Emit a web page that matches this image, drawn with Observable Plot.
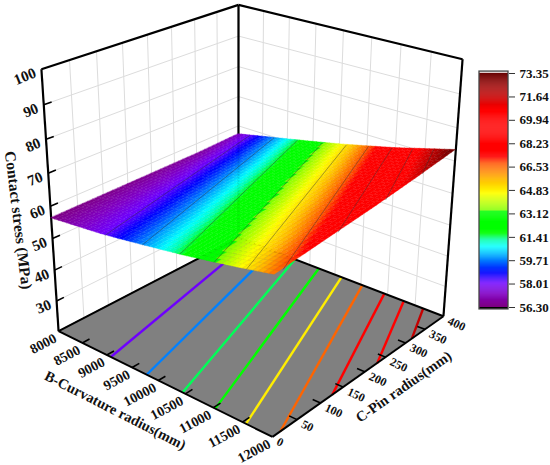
<!DOCTYPE html>
<html><head><meta charset="utf-8">
<style>html,body{margin:0;padding:0;background:#fff}#root{position:relative;width:550px;height:465px;overflow:hidden}#bar{position:absolute;left:470px;top:60px}#main{position:absolute;left:0;top:0}svg{display:block}</style>
<script src="https://cdn.jsdelivr.net/npm/d3@7"></script>
<script src="https://cdn.jsdelivr.net/npm/@observablehq/plot@0.6"></script>
</head><body><div id="root"><div id="main"></div><div id="bar"></div></div>
<script>
// ---- data ----
const bTicks = [8000,8500,9000,9500,10000,10500,11000,11500,12000];
const cTicks = [0,50,100,150,200,250,300,350,400];
const zTicks = [30,40,50,60,70,80,90,100];
const barTicks = [56.30,58.01,59.71,61.41,63.12,64.83,66.53,68.23,69.94,71.64,73.35];
// stress at C = 0, 100, 200, 300, 400 (rows) for each bTicks value (columns)
const cRows = [0,100,200,300,400];
const stress0   = [56.30,57.09,57.88,59.03,60.27,61.56,63.03,64.64,66.40];
const stress100 = [56.40,57.33,58.35,59.66,61.03,62.52,64.15,65.89,68.00];
const stress200 = [56.50,57.64,58.98,60.44,61.98,63.62,65.42,67.36,69.50];
const stress300 = [56.60,58.17,59.72,61.37,63.07,64.89,66.89,68.99,71.30];
const stress400 = [57.12,58.91,60.68,62.48,64.34,66.41,68.52,70.94,73.35];
// contour lines
const levels      = [58.01,59.71,61.41,63.12,64.83,66.53,68.23,69.94,71.64];
const levelStartB = [9080,9780,10448,11032,11560,12000,12000,12000,12000];
const levelStartC = [0,0,0,0,0,16,126,230,316];
const levelEndB   = [8240,8732,9200,9680,10128,10528,10940,11296,11644];
// colour map
const cmapValues = [56.30,56.57,57.29,58.02,58.75,59.72,60.69,61.17,61.66,63.28,63.29,64.57,65.54,66.75,67.24,70.63,73.35];
const cmapColors = ["rgb(125,0,130)","rgb(128,0,150)","rgb(128,0,200)","rgb(110,0,255)","rgb(0,0,255)","rgb(0,130,255)","rgb(0,255,255)","rgb(0,255,170)","rgb(0,255,0)","rgb(0,255,0)","rgb(128,255,0)","rgb(255,255,0)","rgb(255,190,0)","rgb(255,80,0)","rgb(255,0,0)","rgb(255,0,0)","rgb(100,0,0)"];

const zMin = 20, zMax = 100, bMin = 8000, bMax = 12000, cMin = 0, cMax = 400;
const serif = "'Liberation Serif','Times New Roman',serif";

// ---- camera: least-squares projective fit to the seven visible box corners ----
const anchors = [
  [0,0,0,58,330],[1,0,0,272,437],[1,1,0,443,315],[0,1,0,238,238],
  [0,0,1,41,69],[1,1,1,462,59],[0,1,1,238,4]
];
function fitCamera(pts){
  const A=[],b=[];
  for(const [u,v,w,X,Y] of pts){
    A.push([u,v,w,1,0,0,0,0,-X*u,-X*v,-X*w]);b.push(X);
    A.push([0,0,0,0,u,v,w,1,-Y*u,-Y*v,-Y*w]);b.push(Y);
  }
  const n=11,M=Array.from({length:n},(_,i)=>{
    const r=new Array(n+1).fill(0);
    for(let k=0;k<A.length;k++){for(let j=0;j<n;j++)r[j]+=A[k][i]*A[k][j];r[n]+=A[k][i]*b[k];}
    return r;
  });
  for(let i=0;i<n;i++){
    let p=i;for(let r=i+1;r<n;r++)if(Math.abs(M[r][i])>Math.abs(M[p][i]))p=r;
    [M[i],M[p]]=[M[p],M[i]];
    for(let r=0;r<n;r++){if(r===i)continue;const f=M[r][i]/M[i][i];for(let j=i;j<=n;j++)M[r][j]-=f*M[i][j];}
  }
  return M.map((r,i)=>r[n]/r[i]);
}
const P = fitCamera(anchors);
function project(B,C,z){
  const u=(B-bMin)/(bMax-bMin),v=(C-cMin)/(cMax-cMin),w=(z-zMin)/(zMax-zMin);
  const d=P[8]*u+P[9]*v+P[10]*w+1;
  return [(P[0]*u+P[1]*v+P[2]*w+P[3])/d,(P[4]*u+P[5]*v+P[6]*w+P[7])/d];
}
const seg=(a,b,extra={})=>{const p=project(...a),q=project(...b);return {x1:p[0],y1:p[1],x2:q[0],y2:q[1],...extra};};

// value lookup for shading the mesh between the table nodes
const rows=[stress0,stress100,stress200,stress300,stress400];
function stress(B,C){
  const fb=(B-bMin)/500,fc=C/100;
  const i=Math.min(7,Math.floor(fb)),j=Math.min(3,Math.floor(fc));
  const s=fb-i,t=fc-j;
  return (1-t)*((1-s)*rows[j][i]+s*rows[j][i+1])+t*((1-s)*rows[j+1][i]+s*rows[j+1][i+1]);
}

// ---- surface cells ----
const NB=48,NC=40;
const cells=[];
for(let i=0;i<NB;i++)for(let j=0;j<NC;j++){
  const B0=bMin+(bMax-bMin)*i/NB,B1=bMin+(bMax-bMin)*(i+1)/NB;
  const C0=cMax*j/NC,C1=cMax*(j+1)/NC;
  const val=stress((B0+B1)/2,(C0+C1)/2),id=i*1000+j;
  const p00=project(B0,C0,stress(B0,C0)),p10=project(B1,C0,stress(B1,C0));
  const p01=project(B0,C1,stress(B0,C1)),p11=project(B1,C1,stress(B1,C1));
  cells.push({id,val,x1:p00[0],y1:p00[1],x2:p01[0],y2:p01[1]});
  cells.push({id,val,x1:p10[0],y1:p10[1],x2:p11[0],y2:p11[1]});
}
// mesh lines on the surface
const mesh=[];
for(let i=0;i<=NB;i+=1){const B=bMin+(bMax-bMin)*i/NB;for(let j=0;j<NC;j++){const a=cMax*j/NC,b=cMax*(j+1)/NC;mesh.push(seg([B,a,stress(B,a)],[B,b,stress(B,b)]));}}
for(let j=0;j<=NC;j+=1){const C=cMax*j/NC;for(let i=0;i<NB;i++){const a=bMin+(bMax-bMin)*i/NB,b=bMin+(bMax-bMin)*(i+1)/NB;mesh.push(seg([a,C,stress(a,C)],[b,C,stress(b,C)]));}}

// ---- box ----
const grid=[];
for(const z of zTicks.filter(z=>z<zMax)){
  grid.push(seg([bMin,cMin,z],[bMin,cMax,z]));
  grid.push(seg([bMin,cMax,z],[bMax,cMax,z]));
}
for(const C of cTicks.slice(1,-1))grid.push(seg([bMin,C,zMin],[bMin,C,zMax]));
for(const B of bTicks.slice(1,-1))grid.push(seg([B,cMax,zMin],[B,cMax,zMax]));
const frameTop=[
  seg([bMin,cMin,zMin],[bMin,cMin,zMax]),
  seg([bMin,cMin,zMax],[bMin,cMax,zMax]),
  seg([bMin,cMax,zMax],[bMax,cMax,zMax]),
  seg([bMax,cMax,zMax],[bMax,cMax,zMin]),
  seg([bMin,cMax,zMax],[bMin,cMax,zMin])
];
const frameFloor=[
  seg([bMin,cMin,zMin],[bMax,cMin,zMin]),
  seg([bMax,cMin,zMin],[bMax,cMax,zMin]),
  seg([bMin,cMin,zMin],[bMin,cMax,zMin]),
  seg([bMin,cMax,zMin],[bMax,cMax,zMin])
];
const floorCorners=[[bMin,cMin],[bMax,cMin],[bMax,cMax],[bMin,cMax]].map(([B,C])=>project(B,C,zMin));
const floorArea=[
  {x1:floorCorners[0][0],y1:floorCorners[0][1],x2:floorCorners[3][0],y2:floorCorners[3][1]},
  {x1:floorCorners[1][0],y1:floorCorners[1][1],x2:floorCorners[2][0],y2:floorCorners[2][1]}
];
const floorContours=levels.map((L,i)=>seg([levelStartB[i],levelStartC[i],zMin],[levelEndB[i],cMax,zMin],{L}));
const surfContours=levels.map((L,i)=>seg([levelStartB[i],levelStartC[i],L],[levelEndB[i],cMax,L],{L}));
const ticks=[
  ...bTicks.slice(1,-1).map(B=>seg([B,cMin,zMin],[B,cMin+14,zMin])),
  ...cTicks.slice(1,-1).map(C=>seg([bMax,C,zMin],[bMax-130,C,zMin])),
  ...zTicks.slice(0,-1).map(z=>seg([bMin,cMin,z],[bMin,cMin+14,z]))
];
const at=(list,f)=>list.map(d=>{const p=f(d);return {x:p[0],y:p[1],t:String(d)};});
const labB=at(bTicks,B=>project(B,cMin,zMin));
const labC=at(cTicks,C=>project(bMax,C,zMin));
const labZ=at(zTicks,z=>project(bMin,cMin,z));
const titleB=project(10000,cMin,zMin),titleC=project(bMax,200,zMin),titleZ=project(bMin,cMin,56);

const colorScale={type:"linear",domain:cmapValues,range:cmapColors,interpolate:"rgb"};
const linkOpt={x1:"x1",y1:"y1",x2:"x2",y2:"y2"};
const txt={x:"x",y:"y",text:"t",fontFamily:serif,fontWeight:"bold",fill:"#111"};

const main=Plot.plot({
  width:550,height:465,margin:0,
  x:{domain:[0,550],range:[0,550],axis:null},
  y:{domain:[0,465],range:[0,465],axis:null},
  color:colorScale,
  style:{background:"#fff",fontFamily:serif},
  marks:[
    Plot.link(grid,{...linkOpt,stroke:"#dcdcdc",strokeWidth:1}),
    Plot.area(floorArea,{...linkOpt,fill:"#808080"}),
    Plot.link(floorContours,{...linkOpt,stroke:"L",strokeWidth:2.4}),
    Plot.link(frameTop,{...linkOpt,stroke:"#000",strokeWidth:2.2}),
    Plot.link(frameFloor,{...linkOpt,stroke:"#000",strokeWidth:2}),
    Plot.link(ticks,{...linkOpt,stroke:"#000",strokeWidth:1.6}),
    Plot.area(cells,{...linkOpt,z:"id",fill:"val",stroke:"val",strokeWidth:0.4}),
    Plot.link(mesh,{...linkOpt,stroke:"#000",strokeOpacity:0.03,strokeWidth:0.6}),
    Plot.link(surfContours,{...linkOpt,stroke:"#333",strokeOpacity:0.55,strokeWidth:0.8}),
    Plot.text(labB,{...txt,fontSize:14,rotate:-28,textAnchor:"end",dx:-3,dy:6}),
    Plot.text(labC,{...txt,fontSize:12,rotate:25,textAnchor:"start",dx:5,dy:4}),
    Plot.text(labZ,{...txt,fontSize:15,rotate:-22,textAnchor:"end",dx:-6,dy:3}),
    Plot.text(["Contact stress (MPa)"],{x:()=>titleZ[0],y:()=>titleZ[1],text:d=>d,dx:-33,dy:1,rotate:83,fontFamily:serif,fontWeight:"bold",fontSize:15.5,fill:"#111"}),
    Plot.text(["B-Curvature radius(mm)"],{x:()=>titleB[0],y:()=>titleB[1],text:d=>d,dx:-43,dy:30,rotate:27,fontFamily:serif,fontWeight:"bold",fontSize:14.5,fill:"#111"}),
    Plot.text(["C-Pin radius(mm)"],{x:()=>titleC[0],y:()=>titleC[1],text:d=>d,dx:39,dy:15,rotate:-35,fontFamily:serif,fontWeight:"bold",fontSize:14.5,fill:"#111"})
  ]
});
document.getElementById("main").append(main);

// ---- colour bar ----
const lo=barTicks[0],hi=barTicks[barTicks.length-1],step=(hi-lo)/240;
const strips=d3.range(lo,hi,step).map(v=>({v,v2:v+step*1.2}));
const bar=Plot.plot({
  width:80,height:260,marginTop:13,marginBottom:13,marginLeft:9,marginRight:42,
  x:{domain:[0,1],range:[9,38],axis:null},
  y:{domain:[lo,hi],range:[247,13],axis:null},
  color:colorScale,
  style:{background:"transparent",fontFamily:serif,fontWeight:"bold",fontSize:"12.5px",color:"#111"},
  marks:[
    Plot.rect(strips,{x1:()=>0,x2:()=>1,y1:"v",y2:"v2",fill:"v"}),
    Plot.rect([0],{x1:()=>0,x2:()=>1,y1:()=>lo-0.14,y2:()=>lo,fill:"#000"}),
    Plot.rect([0],{x1:()=>0,x2:()=>1,y1:()=>lo-0.14,y2:()=>hi+0.14,stroke:"#444",strokeWidth:1.3,fill:"none"}),
    Plot.axisY({anchor:"right",ticks:barTicks,tickFormat:d=>d.toFixed(2),tickSize:6,tickPadding:5,label:null,x:()=>1,fontFamily:serif,fontWeight:"bold",fontSize:13,color:"#111",stroke:"#333"})
  ]
});
document.getElementById("bar").append(bar);
</script></body></html>
